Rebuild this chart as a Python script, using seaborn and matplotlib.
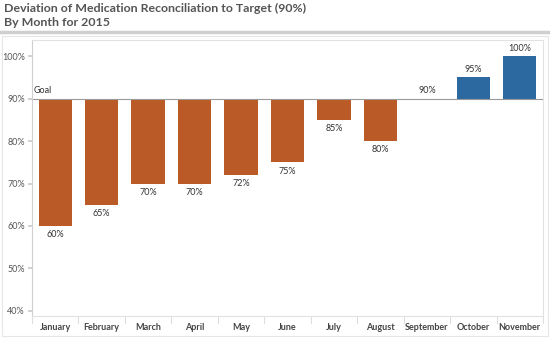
import matplotlib
matplotlib.use("Agg")
import matplotlib.pyplot as plt
import seaborn as sns
import pandas as pd
import numpy as np

months = ["January", "February", "March", "April", "May", "June", "July",
          "August", "September", "October", "November"]
values = [60, 65, 70, 70, 72, 75, 85, 80, 90, 95, 100]
target = 90
ytick_vals = [40, 50, 60, 70, 80, 90, 100]

df = pd.DataFrame({"month": months, "value": values})
df["dev"] = df["value"] - target
df["dir"] = np.where(df["dev"] < 0, "below", "above")

sns.set_theme(style="white")
plt.rcParams['font.family'] = ['Lato', 'DejaVu Sans']

fig = plt.figure(figsize=(5.5, 3.38), dpi=100)
ax = fig.add_axes([32/550, 1-316/338, 511/550, 276/338])

palette = {"below": "#BA5A27", "above": "#2C69A0"}
sns.barplot(data=df, x="month", y="dev", hue="dir", palette=palette,
            dodge=False, width=0.72, legend=False, ax=ax, saturation=1,
            linewidth=0, edgecolor="none")

ax.set_ylim(38.8 - target, 103.8 - target)
ax.set_xlim(-0.5, len(months) - 0.5)
ax.set_yticks([v - target for v in ytick_vals])
ax.set_yticklabels([f"{v}%" for v in ytick_vals], fontsize=6.5, color="#555555")
ax.set_xticks(range(len(months)))
ax.set_xticklabels(months, fontsize=6.5, color="#444444", fontweight="bold")
ax.set_xlabel("")
ax.set_ylabel("")
ax.tick_params(axis="x", length=0, pad=5)
ax.tick_params(axis="y", length=3, color="#cccccc", left=True, pad=2)

# separators between categories
for i in range(len(months) + 1):
    ax.plot([i - 0.5, i - 0.5], [0, -0.025], transform=ax.get_xaxis_transform(),
            color="#dddddd", lw=0.8, clip_on=False)

ax.axhline(0, color="#999999", lw=0.8)
ax.text(-0.47, 0.8, "Goal", fontsize=6.5, color="#333333", va="bottom", ha="left")

for i, (v, d) in enumerate(zip(values, df["dev"])):
    if d < 0:
        ax.text(i, d - 1.0, f"{v}%", ha="center", va="top", fontsize=6.5, color="#333333")
    else:
        ax.text(i, d + 0.8, f"{v}%", ha="center", va="bottom", fontsize=6.5, color="#333333")

for s in ["top", "right", "left", "bottom"]:
    ax.spines[s].set_color("#e2e2e2")
    ax.spines[s].set_linewidth(0.8)
ax.spines["left"].set_color("#d0d0d0")

fig.text(4/550, 1-3/338, "Deviation of Medication Reconciliation to Target (90%)\nBy Month for 2015",
         fontsize=8.9, fontweight="bold", color="#555555", va="top", ha="left", linespacing=1.3)
fig.add_artist(plt.Line2D([0, 1], [1-32/338, 1-32/338], color="#cfcfcf", lw=2.5))
fig.add_artist(plt.Rectangle((2/550, 2/338), 546/550, 1-38/338, fill=False,
                             ec="#e6e6e6", lw=0.8))

fig.savefig("out.png", dpi=100)
